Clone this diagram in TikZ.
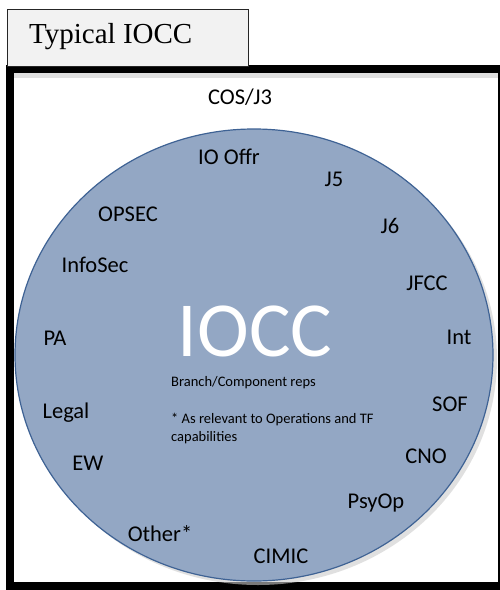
\documentclass[tikz,border=0pt]{standalone}
\usepackage{fontspec}
\setmainfont{Carlito}
\newfontfamily\titlefont{Liberation Serif}
\usepackage{tikz}
\definecolor{cellfill}{RGB}{147,167,196}
\definecolor{celledge}{RGB}{62,98,148}
\tikzset{role/.style={font=\fontsize{22.5}{25}\selectfont, inner sep=0pt}}

\begin{document}
\begin{tikzpicture}[x=1pt,y=-1pt]
\useasboundingbox (0,0) rectangle (500,590);
\fill [white] (0,0) rectangle (500,590);
\fill [black] (6,65) rectangle (500,590);
\fill [white] (14,73) rectangle (498,582);
\fill [black!12] (14,73) rectangle (498,78);
\draw [black!85, fill=black!5] (7,9) rectangle (248,66);
\node [anchor=west, inner sep=0pt, font=\titlefont\fontsize{29}{32}\selectfont] (title) at (29,37) {Typical IOCC};
\fill [black!20, opacity=0.6] (258,359) ellipse (239 and 226);
\draw [celledge, fill=cellfill, line width=1.2pt] (254,355) ellipse (239 and 226);
\node [white, inner sep=0pt, font=\fontsize{78}{80}\selectfont] (iocc) at (255,331) {IOCC};
\node [anchor=west, inner sep=0pt, font=\fontsize{14.5}{18}\selectfont] (reps) at (171,383) {Branch/Component reps};
\node [anchor=north west, align=left, inner sep=0pt, font=\fontsize{14.5}{18}\selectfont] (note) at (171,413) {* As relevant to Operations and TF\\capabilities};
\node [role] (cos) at (240,97) {COS/J3};
\node [role] (ioffr) at (229,157) {IO Offr};
\node [role] (jfive) at (334,179) {J5};
\node [role] (opsec) at (128,214) {OPSEC};
\node [role] (jsix) at (390,226) {J6};
\node [role] (infosec) at (95,265) {InfoSec};
\node [role] (jfcc) at (427,283) {JFCC};
\node [role] (pa) at (55,338) {PA};
\node [role] (int) at (459,337) {Int};
\node [role] (legal) at (66,413) {Legal};
\node [role] (sof) at (450,404) {SOF};
\node [role] (cno) at (426,456) {CNO};
\node [role] (ew) at (88,463) {EW};
\node [role] (psyop) at (376,503) {PsyOp};
\node [role] (other) at (160,534) {Other*};
\node [role] (cimic) at (281,556) {CIMIC};
\end{tikzpicture}
\end{document}
